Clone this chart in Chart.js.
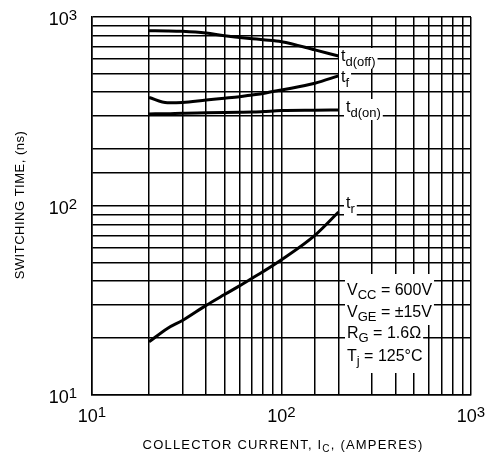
<!DOCTYPE html>
<html>
<head>
<meta charset="utf-8">
<script src="https://cdn.jsdelivr.net/npm/chart.js@4.4.0/dist/chart.umd.min.js"></script>
<style>
html, body { margin: 0; padding: 0; background: #fff; }
#wrap { width: 488px; height: 458px; }
</style>
</head>
<body>
<div id="wrap"><canvas id="mychart"></canvas></div>
<script>
// collector current, amperes
const current = [20, 25, 30, 40, 50, 60, 70, 80, 100, 150, 200];
// switching times, ns
const tdOff = [845, 844, 840, 822, 795, 780, 768, 758, 740, 670, 622];
const tf = [375, 352, 353, 364, 372, 379, 387, 394, 411, 446, 488];
const tdOn = [307, 308, 310, 311, 312, 313, 314, 316, 320, 321, 322];
const tr = [19.1, 22.5, 24.8, 29.8, 34, 37.8, 41.5, 45, 52, 70, 93];
// decade tick labels: base and exponent
const decades = [10, 100, 1000];
const exponents = ['1', '2', '3'];

const FONT = "'Liberation Sans', Arial, sans-serif";

function pts(ys) {
    return current.map((x, i) => ({ x: x, y: ys[i] }));
}

// text with a subscript part; with clear set, only paints the white patch
function subText(c, x, y, main, sub, rest, size, subSize, drop, clear) {
    const big = size + 'px ' + FONT;
    const small = subSize + 'px ' + FONT;
    c.font = big;
    const w1 = c.measureText(main).width;
    const w3 = c.measureText(rest).width;
    c.font = small;
    const w2 = c.measureText(sub).width;
    if (clear) {
        c.fillStyle = '#fff';
        c.fillRect(x - 2, y - clear[0], w1 + w2 + w3 + 4, clear[0] + clear[1]);
        return;
    }
    c.fillStyle = '#000';
    c.textBaseline = 'alphabetic';
    c.textAlign = 'left';
    c.font = big;
    c.fillText(main, x, y);
    c.font = small;
    c.fillText(sub, x + w1, y + drop);
    c.font = big;
    c.fillText(rest, x + w1 + w2, y);
}

// "10" with a raised exponent
function power(c, x, y, exp, align) {
    c.font = '18px ' + FONT;
    const wb = c.measureText('10').width;
    c.font = '15px ' + FONT;
    const we = c.measureText(exp).width;
    let x0 = x;
    if (align === 'center') x0 = x - (wb + we) / 2;
    if (align === 'right') x0 = x - wb - we;
    c.fillStyle = '#000';
    c.textAlign = 'left';
    c.textBaseline = 'alphabetic';
    c.font = '18px ' + FONT;
    c.fillText('10', x0, y);
    c.font = '15px ' + FONT;
    c.fillText(exp, x0 + wb, y - 5);
}

// curve names and test conditions: x, y, main, subscript, rest, drop, patch
const labels = [
    [341, 61, 't', 'd(off)', '', 5, [13, 8]],
    [341, 82, 't', 'f', '', 5, [13, 8]],
    [346, 112, 't', 'd(on)', '', 5, [13, 8]],
    [346, 208, 't', 'r', '', 5, [13, 8]],
    [347, 295, 'V', 'CC', ' = 600V', 4, [21, 8]],
    [347, 317, 'V', 'GE', ' = \u00b115V', 4, [21, 8]],
    [347, 338, 'R', 'G', ' = 1.6\u03a9', 4, [21, 8]],
    [347, 361, 'T', 'j', ' = 125\u00b0C', 4, [21, 12]]
];

const notes = {
    id: 'notes',
    afterDatasetsDraw(chart) {
        const c = chart.ctx;
        const xs = chart.scales.x;
        const ys = chart.scales.y;
        c.save();
        labels.forEach(l => subText(c, l[0], l[1], l[2], l[3], l[4], 16, 13, l[5], l[6]));
        labels.forEach(l => subText(c, l[0], l[1], l[2], l[3], l[4], 16, 13, l[5], null));

        // decade labels on both axes
        decades.forEach((d, i) => {
            power(c, xs.getPixelForValue(d), 422, exponents[i], 'center');
            power(c, 77, ys.getPixelForValue(d) + 8, exponents[i], 'right');
        });

        // x axis title
        c.letterSpacing = '1.2px';
        const a = 'COLLECTOR CURRENT, I';
        const b = ', (AMPERES)';
        c.font = '13px ' + FONT;
        const wa = c.measureText(a).width;
        const wb = c.measureText(b).width;
        c.font = '10px ' + FONT;
        const ws = c.measureText('C').width;
        const x0 = 283 - (wa + ws + wb) / 2;
        subText(c, x0, 449, a, 'C', b, 13, 10, 3, null);

        // y axis title
        c.translate(24, 205);
        c.rotate(-Math.PI / 2);
        c.letterSpacing = '0.5px';
        c.font = '13px ' + FONT;
        c.textAlign = 'center';
        c.textBaseline = 'alphabetic';
        c.fillText('SWITCHING TIME, (ns)', 0, 0);
        c.restore();
    }
};

const ctx = document.getElementById('mychart');

const mychart = new Chart(ctx, {
    type: 'line',
    data: {
        datasets: [
            { label: 'td(off)', data: pts(tdOff) },
            { label: 'tf', data: pts(tf) },
            { label: 'td(on)', data: pts(tdOn) },
            { label: 'tr', data: pts(tr) }
        ].map(d => Object.assign(d, {
            borderColor: '#000',
            borderWidth: 3,
            pointRadius: 0,
            cubicInterpolationMode: 'monotone',
            fill: false
        }))
    },
    options: {
        responsive: true,
        maintainAspectRatio: false,
        animation: false,
        layout: { padding: { left: 0, top: 17, right: 17, bottom: 0 } },
        plugins: {
            legend: { display: false },
            tooltip: { enabled: false }
        },
        scales: {
            x: {
                type: 'logarithmic',
                min: 10,
                max: 1000,
                afterFit: s => { s.height = 63; },
                grid: { color: '#000', lineWidth: 1.5, drawTicks: false },
                border: { color: '#000', width: 1.5 },
                ticks: { display: false, autoSkip: false }
            },
            y: {
                type: 'logarithmic',
                min: 10,
                max: 1000,
                afterFit: s => { s.width = 92; },
                grid: { color: '#000', lineWidth: 1.5, drawTicks: false },
                border: { color: '#000', width: 1.5 },
                ticks: { display: false, autoSkip: false }
            }
        }
    },
    plugins: [notes]
});
</script>
</body>
</html>
